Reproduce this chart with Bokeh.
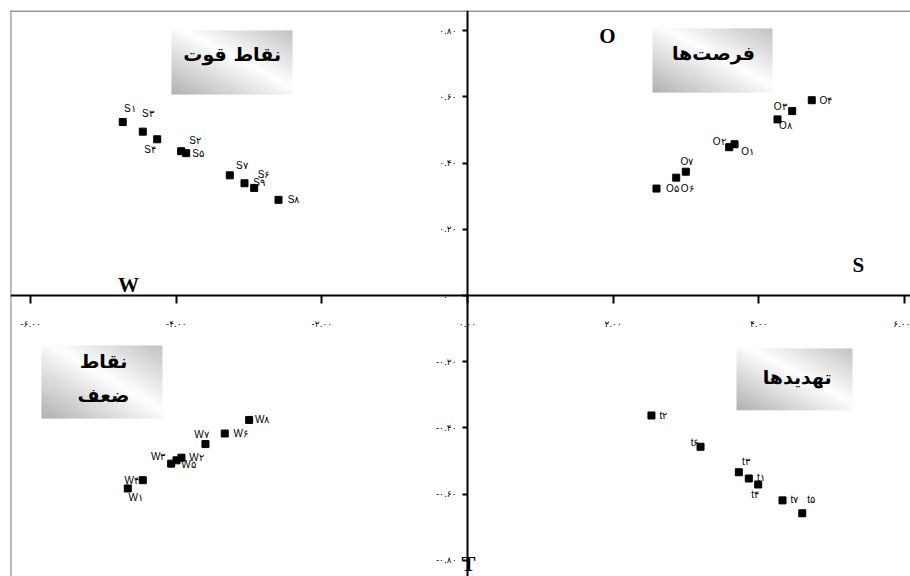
import numpy as np
from bokeh.plotting import figure
from bokeh.models import ColumnDataSource, LinearAxis, FixedTicker, Range1d, Span
from bokeh.core.properties import value
from bokeh.embed import file_html
from bokeh.resources import INLINE

# ---------------- data ----------------
s_names = ["S۱", "S۲", "S۳", "S۴", "S۵", "S۶", "S۷", "S۸", "S۹"]
s_x = [-4.735, -3.933, -4.460, -4.262, -3.864, -3.063, -3.265, -2.596, -2.930]
s_y = [0.524, 0.436, 0.495, 0.472, 0.430, 0.339, 0.363, 0.289, 0.325]

o_names = ["O۱", "O۲", "O۳", "O۴", "O۵", "O۶", "O۷", "O۸"]
o_x = [3.668, 3.595, 4.460, 4.729, 2.596, 2.867, 2.999, 4.258]
o_y = [0.457, 0.448, 0.557, 0.590, 0.323, 0.356, 0.374, 0.532]

w_names = ["W۱", "W۲", "W۳", "W۴", "W۵", "W۶", "W۷", "W۸"]
w_x = [-4.666, -3.929, -4.070, -4.460, -3.997, -3.334, -3.599, -2.999]
w_y = [-0.583, -0.490, -0.508, -0.558, -0.498, -0.417, -0.449, -0.376]

t_names = ["t۱", "t۲", "t۳", "t۴", "t۵", "t۶", "t۷"]
t_x = [3.864, 2.527, 3.727, 3.993, 4.598, 3.201, 4.327]
t_y = [-0.553, -0.3625, -0.534, -0.571, -0.658, -0.457, -0.619]

x_ticks = [-6, -4, -2, 0, 2, 4, 6]
x_tick_labels = ["-۶.۰۰", "-۴.۰۰", "-۲.۰۰", "۰.۰۰", "۲.۰۰", "۴.۰۰", "۶.۰۰"]
y_ticks = [-0.8, -0.6, -0.4, -0.2, 0.0, 0.2, 0.4, 0.6, 0.8]
y_tick_labels = ["-۰.۸۰", "-۰.۶۰", "-۰.۴۰", "-۰.۲۰", "۰.۰۰", "۰.۲۰", "۰.۴۰", "۰.۶۰", "۰.۸۰"]

quad_titles = ["نقاط قوت", "فرصت‌ها", "نقاط\nضعف", "تهدیدها"]
quad_letters = ["O", "S", "W", "T"]

# ---------------- label placement (screen px, styling) ----------------
s_dx = [7, 14, 5, -7, 12, 19, 12, 15, 5]
s_dy = [-14, -11, -18, 10, 0, -9, -10, 0, -5]
o_dx = [13, -10, -12, 14, 16, 11, 1, 8]
o_dy = [7, -6, -5, 0, 0, 11, -10, 6]
w_dx = [8, 15, -13, -11, 12, 16, -4, 13]
w_dy = [9, 0, -7, 0, 4, 0, -10, 0]
t_dx = [12, 12, 7, -3, 9, -6, 12]
t_dy = [-1, 0, -11, 10, -14, -4, -1]

# ---------------- figure ----------------
X0, X1, Y0, Y1 = -6.277, 6.085, -0.849, 0.861
p = figure(width=910, height=576, output_backend="svg", toolbar_location=None,
           x_range=Range1d(X0, X1), y_range=Range1d(Y0, Y1),
           x_axis_location=None, y_axis_location=None,
           min_border_left=10, min_border_top=10, min_border_right=0, min_border_bottom=0)
p.xgrid.visible = False
p.ygrid.visible = False
p.outline_line_color = None
p.background_fill_color = "white"
p.border_fill_color = "white"

# left and top frame border only (right/bottom lie beyond the window in the reference)
p.add_layout(Span(location=X0 + 0.004, dimension="height", line_color="#333333", line_width=1))
p.add_layout(Span(location=Y1 - 0.0015, dimension="width", line_color="#333333", line_width=1))


def gradient(h, w):
    fx = np.linspace(0, 1, w)[None, :]
    gy = np.linspace(0, 1, h)[:, None]
    s = (fx + gy) / 2.0
    lvl = np.where(s < 0.55, 178 + 77 * s / 0.55, 255 - 60 * (s - 0.55) / 0.45)
    img = np.empty((h, w), dtype=np.uint32)
    view = img.view(dtype=np.uint8).reshape((h, w, 4))
    view[..., 0] = lvl
    view[..., 1] = lvl
    view[..., 2] = lvl
    view[..., 3] = 255
    return img


# quadrant title boxes: (x0, x1, y0, y1) in data units
boxes = [(-4.066, -2.404, 0.607, 0.801),
         (2.541, 4.190, 0.613, 0.807),
         (-5.852, -4.190, -0.372, -0.151),
         (3.695, 5.288, -0.347, -0.160)]
for (x0, x1, y0, y1) in boxes:
    wpx = int(round((x1 - x0) * 72.8))
    hpx = int(round((y1 - y0) * 331))
    p.image_rgba(image=[gradient(hpx, wpx)], x=x0, y=y0, dw=x1 - x0, dh=y1 - y0)

title_pos = [(-3.232, 0.730), (3.379, 0.732), (-5.0, -0.250), (4.529, -0.245)]
tsrc = ColumnDataSource(dict(x=[t[0] for t in title_pos], y=[t[1] for t in title_pos],
                             text=quad_titles))
p.text(x="x", y="y", text="text", source=tsrc, text_font=value("DejaVu Sans"),
       text_font_style="bold", text_font_size="19px", text_align="center",
       text_baseline="middle", text_color="black", text_line_height=1.55)

# axes crossing at the origin
xaxis = LinearAxis(fixed_location=0, ticker=FixedTicker(ticks=x_ticks),
                   major_label_overrides={t: l for t, l in zip(x_ticks, x_tick_labels)})
yaxis = LinearAxis(fixed_location=0, ticker=FixedTicker(ticks=y_ticks),
                   major_label_overrides={t: l for t, l in zip(y_ticks, y_tick_labels)})
for ax in (xaxis, yaxis):
    ax.axis_line_width = 2
    ax.axis_line_color = "black"
    ax.major_tick_line_width = 2
    ax.major_tick_line_color = "black"
    ax.minor_tick_line_color = None
    ax.major_label_text_font = "DejaVu Sans"
    ax.major_label_text_font_size = "9px"
    ax.major_label_text_color = "black"
    ax.major_tick_in = 0
xaxis.major_tick_out = 8
xaxis.major_label_standoff = 16
yaxis.major_tick_out = 5
yaxis.major_label_standoff = 6
p.add_layout(xaxis, "below")
p.add_layout(yaxis, "left")

# points and labels
for names, xs, ys, dx, dy in [(s_names, s_x, s_y, s_dx, s_dy),
                              (o_names, o_x, o_y, o_dx, o_dy),
                              (w_names, w_x, w_y, w_dx, w_dy),
                              (t_names, t_x, t_y, t_dx, t_dy)]:
    src = ColumnDataSource(dict(x=xs, y=ys, name=names, dx=dx, dy=dy))
    p.scatter(x="x", y="y", source=src, marker="square", size=7,
              fill_color="black", line_color="black")
    p.text(x="x", y="y", text="name", source=src, x_offset="dx", y_offset="dy",
           text_font=value("Liberation Sans"), text_font_size="10px",
           text_align="center", text_baseline="middle", text_color="black")

# quadrant letters
letter_x = [1.923, 5.37, -4.657, 0.014]
letter_y = [0.785, 0.091, 0.033, -0.812]
lsrc = ColumnDataSource(dict(x=letter_x, y=letter_y, text=quad_letters))
p.text(x="x", y="y", text="text", source=lsrc, text_font=value("Liberation Serif"),
       text_font_style="bold", text_font_size="21px", text_align="center",
       text_baseline="middle", text_color="black")

open("out.html", "w").write(file_html(p, INLINE))
